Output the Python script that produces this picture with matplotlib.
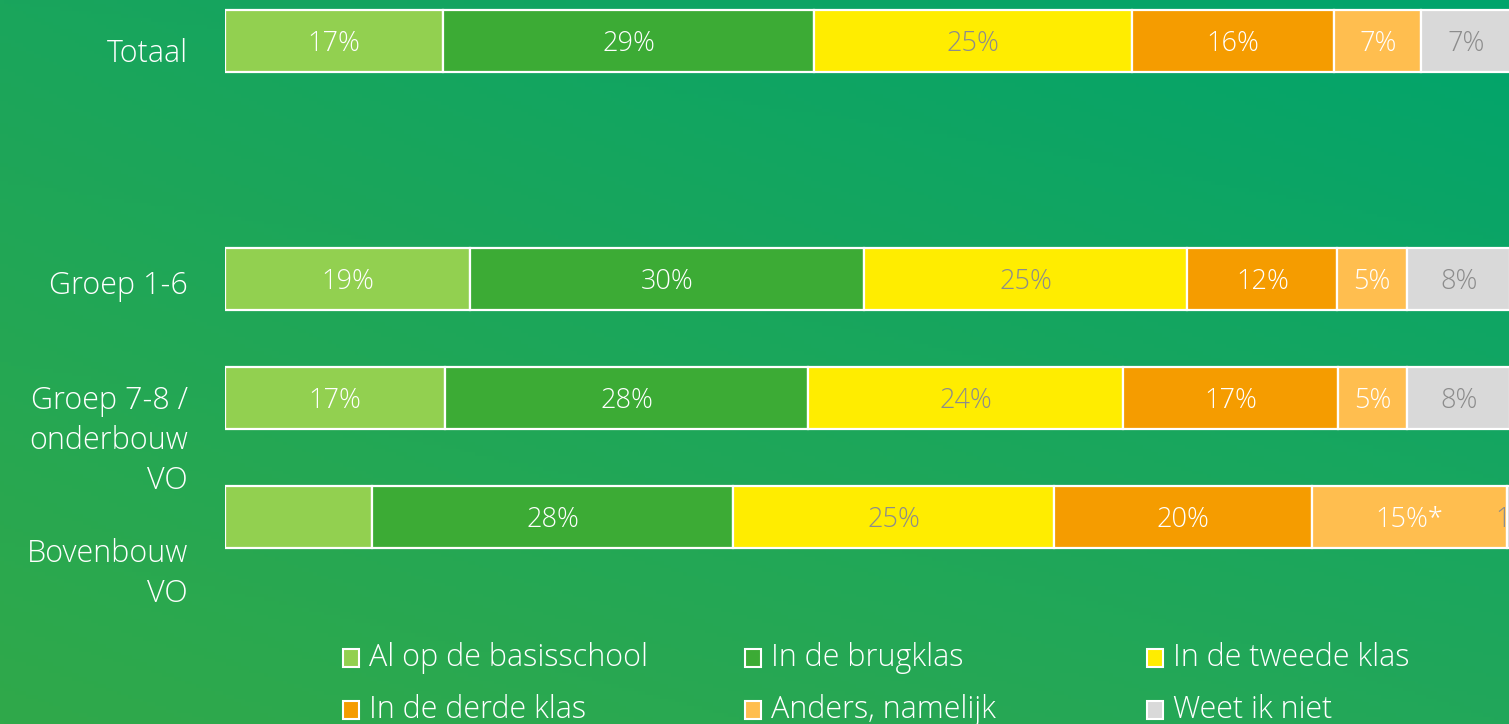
import numpy as np
import matplotlib
matplotlib.use('Agg')
import matplotlib.pyplot as plt
from matplotlib.patches import Rectangle
from matplotlib.transforms import blended_transform_factory

plt.rcParams['font.family'] = ['Open Sans', 'DejaVu Sans']
plt.rcParams['font.weight'] = 'light'

# Data
groups = ['Totaal', 'Groep 1-6', 'Groep 7-8 /\nonderbouw\nVO', 'Bovenbouw\nVO']
group_pos = [0, 2, 3, 4]
categories = ['Al op de basisschool', 'In de brugklas', 'In de tweede klas',
              'In de derde klas', 'Anders, namelijk', 'Weet ik niet']

basisschool = [16.96, 19.07, 17.12, 11.44]
brugklas = [28.87, 30.66, 28.25, 28.09]
tweede = [24.75, 25.14, 24.51, 24.98]
derde = [15.72, 11.67, 16.73, 20.08]
anders = [6.77, 5.45, 5.37, 15.18]
weet_niet = [7.0, 8.0, 8.0, 1.0]

lbl_basisschool = ['17%', '19%', '17%', '']
lbl_brugklas = ['29%', '30%', '28%', '28%']
lbl_tweede = ['25%', '25%', '24%', '25%']
lbl_derde = ['16%', '12%', '17%', '20%']
lbl_anders = ['7%', '5%', '5%', '15%*']
lbl_weet_niet = ['7%', '8%', '8%', '1%']

series = [basisschool, brugklas, tweede, derde, anders, weet_niet]
labels = [lbl_basisschool, lbl_brugklas, lbl_tweede, lbl_derde, lbl_anders, lbl_weet_niet]
colors = ['#92d050', '#3cab35', '#ffed00', '#f59c00', '#ffbe4f', '#d9d9d9']
text_colors = ['white', 'white', '#8c8c8c', 'white', 'white', '#8c8c8c']

W, H = 1509, 724
fig = plt.figure(figsize=(W / 100, H / 100), dpi=100)

# Background gradient
bg = fig.add_axes([0, 0, 1, 1], zorder=0)
yy, xx = np.mgrid[0:1:200j, 0:1:400j]
tl = np.array([26, 165, 92]) / 255
tr = np.array([0, 164, 108]) / 255
bl = np.array([48, 169, 74]) / 255
br = np.array([34, 167, 90]) / 255
img = ((1 - xx)[..., None] * (1 - yy)[..., None] * tl + xx[..., None] * (1 - yy)[..., None] * tr
       + (1 - xx)[..., None] * yy[..., None] * bl + xx[..., None] * yy[..., None] * br)
bg.imshow(img, aspect='auto', extent=[0, 1, 1, 0])
bg.set_axis_off()

# Main bar axes
ax = fig.add_axes([225 / W, (H - 620) / H, 1284 / W, 620 / H], zorder=1)
ax.patch.set_alpha(0)
left = np.zeros(len(groups))
for vals, lbls, c, tc in zip(series, labels, colors, text_colors):
    bars = ax.barh(group_pos, vals, left=left, height=0.52, color=c,
                   edgecolor='white', linewidth=1.6)
    for b, t in zip(bars, lbls):
        ax.text(b.get_x() + b.get_width() / 2, b.get_y() + b.get_height() / 2 + 0.025, t,
                ha='center', va='center', color=tc, fontsize=19.5)
    left += np.array(vals)

ax.set_xlim(0, 99.9)
ax.set_ylim(4.866, -0.345)
ax.set_axis_off()

# Group labels
label_y = [0.11, 2.06, 3.36, 4.48]
trans = blended_transform_factory(ax.transAxes, ax.transData)
for g, y in zip(groups, label_y):
    ax.text(-0.0288, y, g, transform=trans, ha='right', va='center',
            color='white', fontsize=22, linespacing=1.33)

# Legend
lg = fig.add_axes([0, 0, 1, 1], zorder=2)
lg.set_xlim(0, W)
lg.set_ylim(H, 0)
lg.set_axis_off()
for i, (cat, c) in enumerate(zip(categories, colors)):
    col, row = i % 3, i // 3
    x0 = 343 + col * 402
    yc = 658 + row * 52
    lg.add_patch(Rectangle((x0, yc - 9), 16, 18, facecolor=c, edgecolor='white', linewidth=1.5))
    lg.text(x0 + 26, yc, cat, ha='left', va='center', color='white', fontsize=22)

fig.savefig('out.png', dpi=100)
